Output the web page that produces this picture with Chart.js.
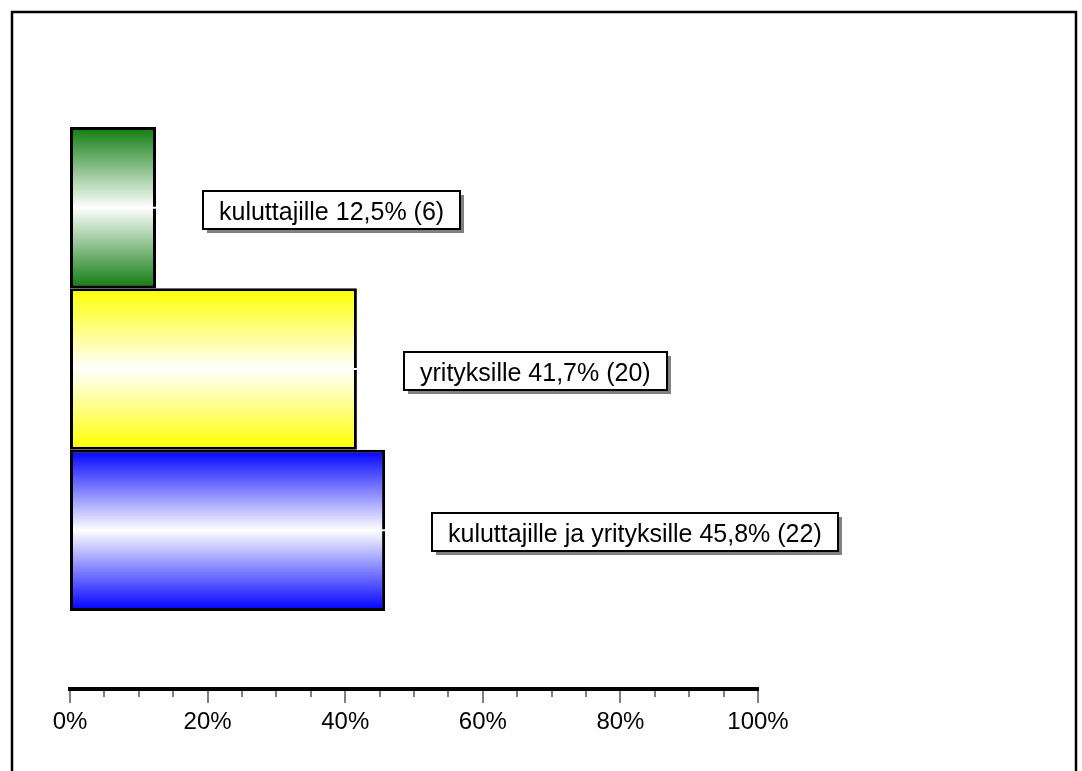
<!DOCTYPE html>
<html>
<head>
<meta charset="utf-8">
<script src="https://cdn.jsdelivr.net/npm/chart.js@4/dist/chart.umd.min.js"></script>
<style>
  html, body { margin: 0; padding: 0; background: #fff; }
  #wrap { width: 1082px; height: 771px; position: relative; }
</style>
</head>
<body>
<div id="wrap"><canvas id="c" width="1082" height="771"></canvas></div>
<script>
// Kohderyhmät, osuudet (%) ja vastausmäärät
const categories = ['kuluttajille', 'yrityksille', 'kuluttajille ja yrityksille'];
const percentages = [12.5, 41.7, 45.8];
const counts = [6, 20, 22];
const barColors = ['rgb(14,124,14)', 'rgb(255,255,0)', 'rgb(0,0,255)'];
const tickValues = [0, 20, 40, 60, 80, 100];

const FONT = '"Liberation Sans", Arial, sans-serif';

// Frame around the whole figure
const framePlugin = {
  id: 'frame',
  afterDraw(chart) {
    const ctx = chart.ctx;
    ctx.save();
    ctx.strokeStyle = '#000';
    ctx.lineWidth = 2.5;
    ctx.strokeRect(12, 12, 1064, 800);
    ctx.restore();
  }
};

// Vertical white-centred gradient fill for each bar
const gradientPlugin = {
  id: 'barGradient',
  beforeDatasetsDraw(chart) {
    const ctx = chart.ctx;
    chart.data.datasets.forEach((ds, i) => {
      const meta = chart.getDatasetMeta(i);
      meta.data.forEach(el => {
        const top = el.y - el.height / 2;
        const bot = el.y + el.height / 2;
        const g = ctx.createLinearGradient(0, top, 0, bot);
        g.addColorStop(0, barColors[i]);
        g.addColorStop(0.5, '#ffffff');
        g.addColorStop(1, barColors[i]);
        el.options.backgroundColor = g;
      });
    });
  },
  afterDatasetsDraw(chart) {
    const ctx = chart.ctx;
    ctx.save();
    chart.data.datasets.forEach((ds, i) => {
      const el = chart.getDatasetMeta(i).data[0];
      // small white leader stub at the bar end
      ctx.fillStyle = '#fff';
      ctx.fillRect(el.x - 3, el.y - 1, 6, 2);
    });
    ctx.restore();
  }
};

// Minor and major tick marks under the axis line
const ticksPlugin = {
  id: 'axisTicks',
  afterDraw(chart) {
    const x = chart.scales.x;
    const ctx = chart.ctx;
    const y0 = chart.chartArea.bottom + 2;
    ctx.save();
    ctx.strokeStyle = '#808080';
    ctx.lineWidth = 2;
    for (let v = 0; v <= 100; v += 5) {
      const px = Math.round(x.getPixelForValue(v));
      const len = (v % 20 === 0) ? 12 : 6;
      ctx.beginPath();
      ctx.moveTo(px, y0);
      ctx.lineTo(px, y0 + len);
      ctx.stroke();
    }
    ctx.restore();
  }
};

// Boxed value labels with drop shadow
const labelPlugin = {
  id: 'valueLabels',
  afterDatasetsDraw(chart) {
    const ctx = chart.ctx;
    ctx.save();
    ctx.font = '25px ' + FONT;
    ctx.textBaseline = 'alphabetic';
    chart.data.datasets.forEach((ds, i) => {
      const el = chart.getDatasetMeta(i).data[0];
      const text = categories[i] + ' ' + percentages[i].toFixed(1).replace('.', ',') + '% (' + counts[i] + ')';
      const tw = ctx.measureText(text).width;
      const pad = 16;
      const w = Math.round(tw + pad * 2);
      const h = 38;
      const bx = Math.round(el.x + 47);
      const by = Math.round(el.y + 2 - h / 2);
      ctx.fillStyle = '#808080';
      ctx.fillRect(bx + 4, by + 4, w, h);
      ctx.fillStyle = '#fff';
      ctx.fillRect(bx, by, w, h);
      ctx.strokeStyle = '#000';
      ctx.lineWidth = 2;
      ctx.strokeRect(bx, by, w, h);
      ctx.fillStyle = '#000';
      ctx.textAlign = 'left';
      ctx.fillText(text, bx + pad, by + 29);
    });
    ctx.restore();
  }
};

const datasets = categories.map((name, i) => ({
  label: name,
  data: [percentages[i]],
  backgroundColor: barColors[i],
  borderColor: '#000',
  borderWidth: 3,
  borderSkipped: false,
  barPercentage: 1,
  categoryPercentage: 0.756
}));

new Chart(document.getElementById('c'), {
  type: 'bar',
  data: { labels: [''], datasets },
  options: {
    indexAxis: 'y',
    responsive: false,
    animation: false,
    devicePixelRatio: 1,
    layout: { padding: { left: 70, right: 324, top: 49, bottom: 0 } },
    plugins: { legend: { display: false }, tooltip: { enabled: false } },
    scales: {
      y: { display: false },
      x: {
        min: 0, max: 100,
        afterBuildTicks(scale) { scale.ticks = tickValues.map(v => ({ value: v })); },
        afterFit(scale) { scale.height = 82; },
        grid: { display: false, drawTicks: false },
        border: { display: true, color: '#000', width: 4 },
        ticks: {
          padding: 19,
          color: '#000',
          font: { family: FONT, size: 24 },
          maxRotation: 0,
          autoSkip: false,
          callback: (v) => v + '%'
        }
      }
    }
  },
  plugins: [gradientPlugin, labelPlugin, ticksPlugin, framePlugin]
});
</script>
</body>
</html>
